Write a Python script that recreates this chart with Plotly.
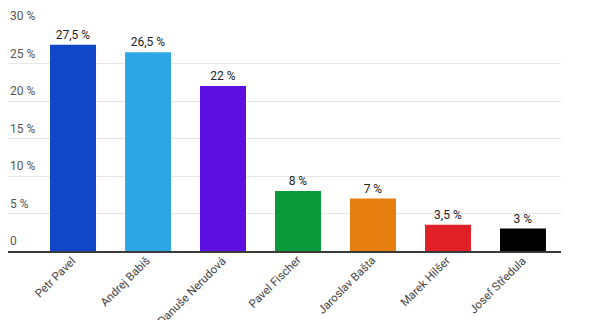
import plotly.graph_objects as go

candidates = ["Petr Pavel", "Andrej Babiš", "Danuše Nerudová", "Pavel Fischer",
              "Jaroslav Bašta", "Marek Hilšer", "Josef Středula"]
values = [27.5, 26.5, 22, 8, 7, 3.5, 3]
colors = ["#0f47c8", "#2ea6e6", "#5c0fe0", "#0a9a3a", "#e67e10", "#e01f26", "#000000"]
tick_vals = [0, 5, 10, 15, 20, 25, 30]
tick_text = ["0", "5 %", "10 %", "15 %", "20 %", "25 %", "30 %"]

labels = [f"{v:g} %".replace(".", ",") for v in values]

fig = go.Figure(go.Bar(
    x=candidates, y=values, marker=dict(color=colors, line=dict(width=0)),
    text=labels, textposition="outside", cliponaxis=False,
    textfont=dict(size=12, color="#222222", family="Roboto"),
    width=0.613,
))

for v, t in zip(tick_vals, tick_text):
    fig.add_annotation(x=0, xref="paper", y=v, yref="y", text=t, showarrow=False,
                       xanchor="left", yanchor="bottom", yshift=1,
                       font=dict(size=12, color="#555555", family="Roboto"))

for c in candidates:
    fig.add_annotation(x=c, xref="x", y=0, yref="y", text=c, showarrow=False,
                       textangle=-45, xanchor="right", yanchor="top",
                       xshift=7, yshift=-1, borderpad=0,
                       font=dict(size=11.5, color="#444444", family="Roboto"))

fig.update_layout(
    width=610, height=320,
    margin=dict(l=8, r=49, t=26, b=69),
    paper_bgcolor="white", plot_bgcolor="white",
    font=dict(family="Roboto", color="#444444", size=12),
    showlegend=False,
    xaxis=dict(range=[-0.867, 6.507], showline=True, linecolor="#3a3a3a",
               linewidth=2, ticks="", showgrid=False, automargin=False,
               showticklabels=False),
    yaxis=dict(range=[0, 30], tickvals=tick_vals, showticklabels=False, automargin=False,
               showgrid=True, gridcolor="#e6e6e6", gridwidth=1, zeroline=False),
)

fig.write_html("out.html")
